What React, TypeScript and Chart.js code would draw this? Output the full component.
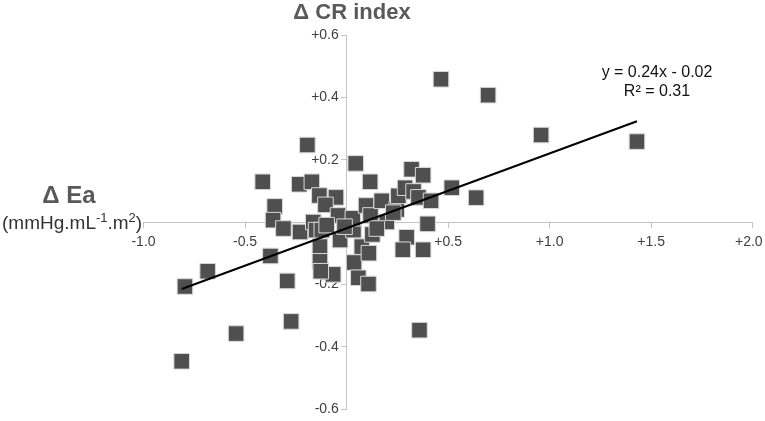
import React, { useEffect, useRef } from "react";
import { Chart, registerables } from "chart.js";

Chart.register(...registerables);

// ΔEa (x) values
const deltaEa: number[] = [
  0.465, 0.697, 0.958, 1.43, 0.518, 0.638, 0.045, 0.116, -0.193, -0.413,
  -0.233, -0.171, -0.134, -0.052, -0.104, -0.354, -0.362, -0.311, -0.229, -0.042,
  -0.164, -0.15, -0.122, -0.032, -0.131, -0.131, -0.066, -0.292, -0.375, -0.796,
  -0.684, -0.544, -0.812, -0.273, 0.359, 0.037, 0.058, 0.108, 0.075, 0.11,
  0.127, 0.034, 0.031, 0.096, 0.118, 0.173, 0.198, 0.247, 0.255, 0.288,
  0.32, 0.377, 0.33, 0.354, 0.416, 0.399, 0.296, 0.277, 0.377, 0.23,
  0.149, -0.01, -0.098, -0.127,
];
// ΔCR index (y) values
const deltaCR: number[] = [
  0.458, 0.407, 0.279, 0.258, 0.11, 0.078, 0.188, 0.129, 0.247, 0.129,
  0.121, 0.129, 0.085, 0.079, 0.055, 0.05, 0.006, -0.021, -0.032, 0.021,
  0.0, -0.026, -0.026, -0.058, -0.079, -0.126, -0.168, -0.189, -0.109, -0.207,
  -0.158, -0.358, -0.447, -0.319, -0.347, -0.13, -0.179, -0.199, -0.079, -0.1,
  -0.04, -0.026, 0.012, 0.053, 0.021, 0.068, 0.0, 0.04, 0.084, 0.11,
  0.169, 0.15, 0.098, 0.079, 0.068, -0.006, -0.049, -0.089, -0.089, 0.03,
  -0.021, -0.015, -0.01, -0.158,
];

const trendSlope = 0.24;
const trendIntercept = -0.02;
const equationLabel = "y = 0.24x - 0.02";
const r2Label = "R² = 0.31";
const xTitle = "Δ CR index";
const yTitle = "Δ Ea";

const xMin = -1.0;
const xMax = 2.0;
const xStep = 0.5;
const yMin = -0.6;
const yMax = 0.6;
const yStep = 0.2;

const fmt = (v: number) => {
  if (Math.abs(v) < 1e-9) return "";
  const s = Math.abs(v).toFixed(1);
  return v > 0 ? "+" + s : "-" + s;
};

const FONT = "'Liberation Sans', Arial, sans-serif";

const annotations = {
  id: "annotations",
  afterDraw(chart: any) {
    const ctx = chart.ctx as CanvasRenderingContext2D;
    ctx.save();
    // Title
    ctx.fillStyle = "#595959";
    ctx.font = `bold 22px ${FONT}`;
    ctx.textAlign = "center";
    ctx.textBaseline = "alphabetic";
    ctx.fillText(xTitle, 352, 19);
    // Left label
    ctx.font = `bold 24px ${FONT}`;
    ctx.fillText(yTitle, 69, 203);
    // Units with superscripts
    ctx.fillStyle = "#333333";
    ctx.textAlign = "left";
    const parts: [string, boolean][] = [
      ["(mmHg.mL", false],
      ["-1", true],
      [".m", false],
      ["2", true],
      [")", false],
    ];
    let x = 2;
    const base = 229;
    for (const [t, sup] of parts) {
      ctx.font = sup ? `13px ${FONT}` : `19px ${FONT}`;
      ctx.fillText(t, x, sup ? base - 7.5 : base);
      x += ctx.measureText(t).width;
    }
    // Equation
    ctx.fillStyle = "#111111";
    ctx.textAlign = "center";
    ctx.font = `16px ${FONT}`;
    ctx.fillText(equationLabel, 657, 76.5);
    ctx.fillText(r2Label, 657, 95.5);
    ctx.restore();
  },
};

export default function App() {
  const ref = useRef<HTMLCanvasElement | null>(null);
  useEffect(() => {
    if (!ref.current) return;
    const pts = deltaEa.map((x, i) => ({ x, y: deltaCR[i] }));
    const lo = Math.min(...deltaEa);
    const hi = Math.max(...deltaEa);
    const trend = [lo, hi].map((x) => ({ x, y: trendSlope * x + trendIntercept }));
    const axisColor = "#c4c4c4";
    const noPad = (s: any) => {
      s.paddingLeft = 0;
      s.paddingRight = 0;
      s.paddingTop = 0;
      s.paddingBottom = 0;
    };
    const chart = new Chart(ref.current, {
      type: "scatter",
      data: {
        datasets: [
          {
            type: "line",
            data: trend,
            borderColor: "#000000",
            borderWidth: 2,
            pointRadius: 0,
            fill: false,
            order: 0,
          } as any,
          {
            data: pts,
            pointStyle: "rect",
            pointRadius: 11,
            pointHoverRadius: 11,
            backgroundColor: "#4f4f4f",
            borderColor: "#d8d8d8",
            borderWidth: 1,
            order: 1,
          },
        ],
      },
      options: {
        responsive: false,
        animation: false,
        events: [],
        layout: { padding: { left: 143.5, right: 12.3, top: 35, bottom: 6 } },
        plugins: { legend: { display: false }, tooltip: { enabled: false }, title: { display: false } },
        scales: {
          x: {
            type: "linear",
            position: { y: 0 } as any,
            min: xMin,
            max: xMax,
            afterFit: noPad,
            border: { display: true, color: axisColor, width: 1 },
            grid: { drawOnChartArea: false, drawTicks: true, tickLength: 5, color: axisColor },
            ticks: {
              stepSize: xStep,
              padding: 7,
              color: "#404040",
              font: { family: FONT, size: 14 },
              callback: (v: any) => {
                const n = Number(v);
                const s = fmt(n);
                return Math.abs(n - xMax) < 1e-9 ? s + "  " : s;
              },
              maxRotation: 0,
            },
          },
          y: {
            type: "linear",
            position: { x: 0 } as any,
            min: yMin,
            max: yMax,
            afterFit: noPad,
            border: { display: true, color: axisColor, width: 1 },
            grid: { drawOnChartArea: false, drawTicks: true, tickLength: 5, color: axisColor },
            ticks: {
              stepSize: yStep,
              color: "#404040",
              font: { family: FONT, size: 14 },
              callback: (v: any) => {
                const s = fmt(Number(v));
                return s ? s + "  " : "";
              },
            },
          },
        },
      },
      plugins: [annotations],
    });
    return () => chart.destroy();
  }, []);
  return (
    <div style={{ position: "absolute", left: 0, top: 0, width: 765, height: 421, background: "#fff" }}>
      <canvas ref={ref} width={765} height={421} />
    </div>
  );
}
